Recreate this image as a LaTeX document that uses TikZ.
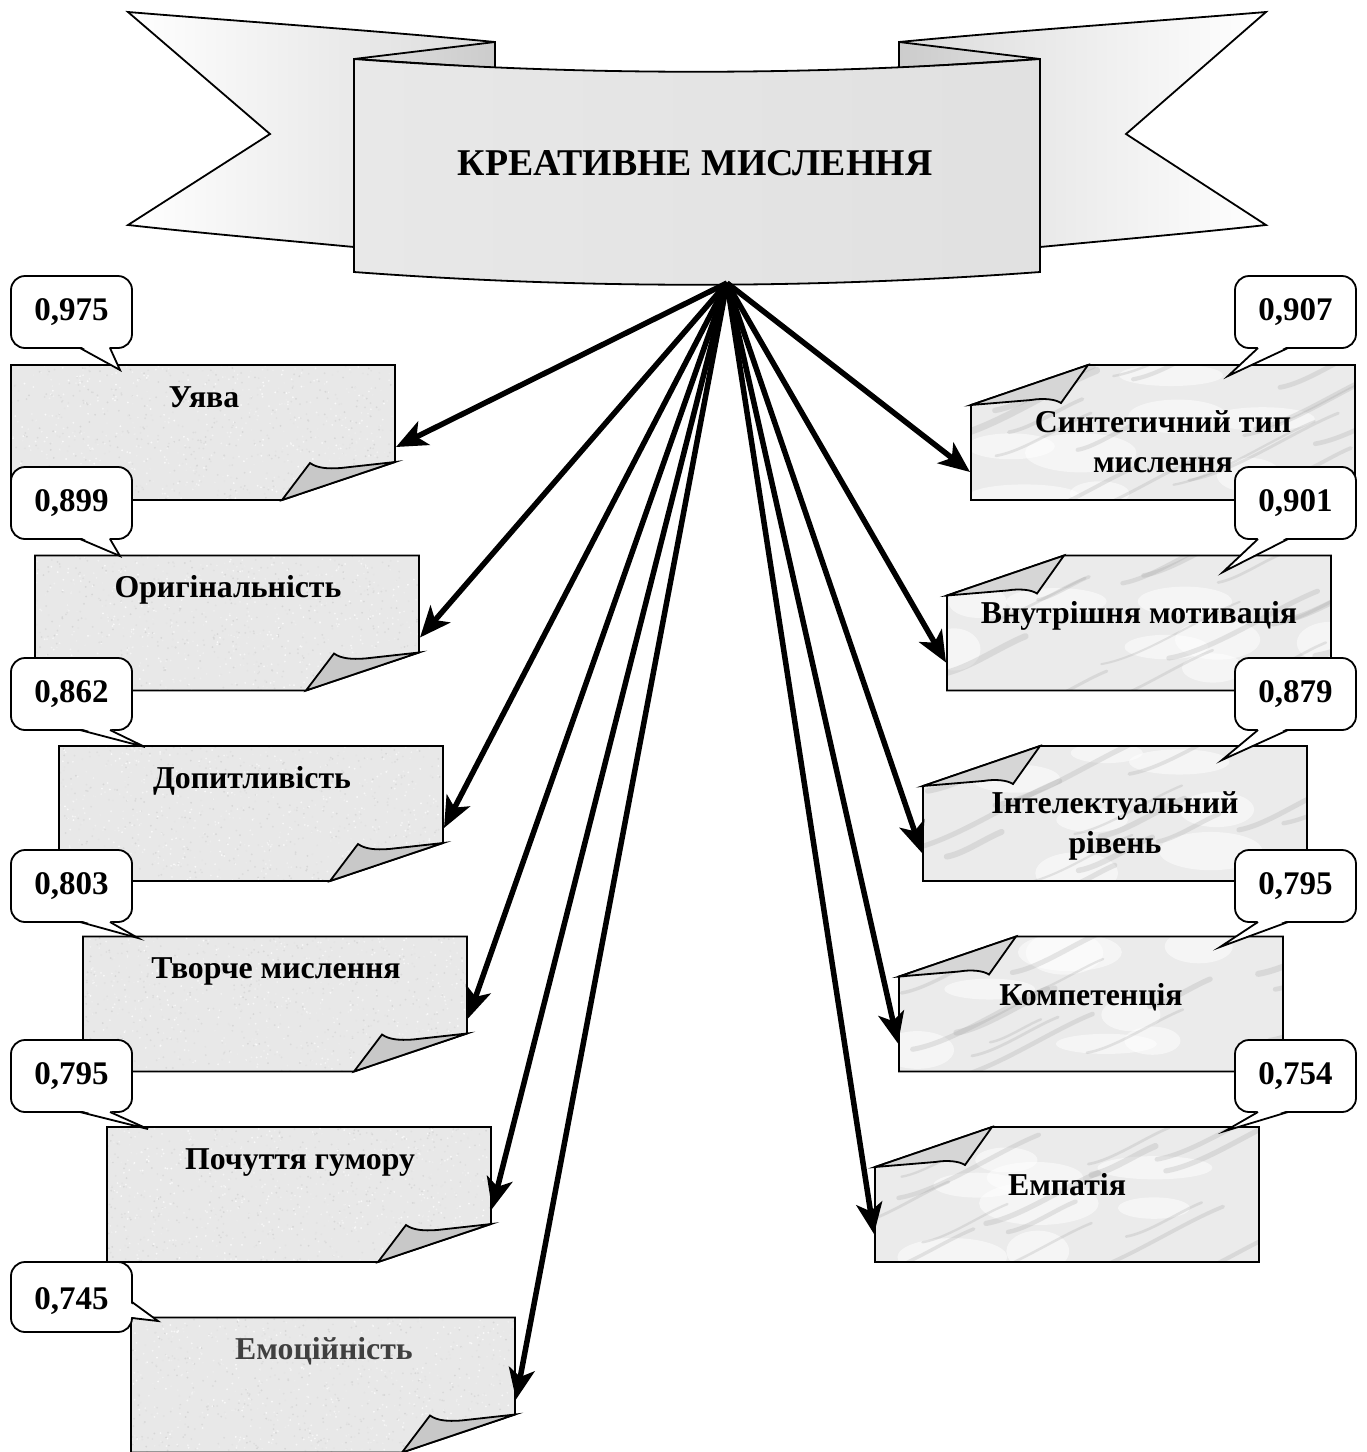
\documentclass[tikz,border=0pt]{standalone}
\usepackage{fontspec}
\setmainfont{Liberation Serif}
\usetikzlibrary{arrows.meta,calc}

\definecolor{granite}{HTML}{E8E8E8}
\definecolor{marble}{HTML}{EBEBEB}
\definecolor{flapgray}{HTML}{C8C8C8}
\definecolor{flaplight}{HTML}{D6D6D6}
\definecolor{softtext}{HTML}{404040}

\tikzset{
  outline/.style={draw=black, line width=1.8pt, line join=miter},
  link/.style={line width=5.5pt, -{Stealth[length=31pt,width=26pt,inset=8pt]}},
  cardtext/.style={font=\fontsize{31.8}{36}\selectfont\bfseries, anchor=base, inner sep=0pt},
  valuetext/.style={font=\fontsize{33}{36}\selectfont\bfseries, anchor=base, inner sep=0pt},
  titletext/.style={font=\fontsize{37.8}{42}\selectfont\bfseries, inner sep=0pt},
}

% fine grain texture for the left cards
\newcommand\GrainFill[2]{%
  \fill[granite] (#1,#2) rectangle ({#1+384},{#2+135});
  \foreach \i in {1,...,1100}{%
    \pgfmathsetmacro\px{#1+rnd*384}%
    \pgfmathsetmacro\py{#2+rnd*135}%
    \pgfmathtruncatemacro\sh{2+rnd*15}%
    \fill[black!\sh] (\px,\py) circle (1.0);
  }%
}

% veined texture for the right cards
\newcommand\VeinFill[2]{%
  \fill[marble] (#1,#2) rectangle ({#1+384},{#2+135});
  \foreach \i in {1,...,8}{%
    \pgfmathsetmacro\sx{#1+rnd*384}%
    \pgfmathsetmacro\sy{#2+rnd*135}%
    \fill[white, opacity=0.5] (\sx,\sy) ellipse ({25+rnd*35} and {10+rnd*12});
  }%
  \foreach \i in {1,...,16}{%
    \pgfmathsetmacro\sx{#1-40+rnd*420}%
    \pgfmathsetmacro\sy{#2+10+rnd*150}%
    \pgfmathsetmacro\len{50+rnd*110}%
    \pgfmathsetmacro\wd{2+rnd*5}%
    \draw[black!40, line width=\wd pt, opacity=0.22, line cap=round]
      (\sx,\sy) .. controls +({\len*0.3},{-\len*0.05}) and +({-\len*0.3},{\len*0.12}) .. +(\len,{-\len*0.45});
  }%
}

% note card with the lower right corner curled (left column)
\newcommand\GraniteCard[5]{%
  \begin{scope}
    \clip (#2,#3) -- ({#2+384},#3) -- ({#2+384},{#3+97})
      -- ({#2+271},{#3+135}) -- (#2,{#3+135}) -- cycle;
    \GrainFill{#2}{#3}
  \end{scope}
  \draw[outline] (#2,#3) -- ({#2+384},#3) -- ({#2+384},{#3+97})
    -- ({#2+271},{#3+135}) -- (#2,{#3+135}) -- cycle;
  \filldraw[outline, fill=flapgray] ({#2+271},{#3+135}) -- ({#2+299},{#3+98})
    .. controls ({#2+306},{#3+103}) and ({#2+316},{#3+104}) .. ({#2+330},{#3+103})
    -- ({#2+384},{#3+97}) -- cycle;
  \node[cardtext, text=#5] (#1) at ({#2+193},{#3+42}) {#4};
  \coordinate (#1-in) at ({#2+385},{#3+82});
}

% note card with the upper left corner curled (right column)
\newcommand\MarbleCard[3]{%
  \begin{scope}
    \clip (#2,{#3+40}) -- ({#2+117},#3) -- ({#2+384},#3)
      -- ({#2+384},{#3+135}) -- (#2,{#3+135}) -- cycle;
    \VeinFill{#2}{#3}
  \end{scope}
  \draw[outline] (#2,{#3+40}) -- ({#2+117},#3) -- ({#2+384},#3)
    -- ({#2+384},{#3+135}) -- (#2,{#3+135}) -- cycle;
  \filldraw[outline, fill=flaplight] (#2,{#3+40}) -- ({#2+117},#3) -- ({#2+90},{#3+38})
    .. controls ({#2+84},{#3+34}) and ({#2+72},{#3+33}) .. ({#2+60},{#3+35}) -- cycle;
  \coordinate (#1-in) at ({#2-1},{#3+107});
}

% rounded speech bubble holding a coefficient; tail leaves the lower edge
\newcommand\ValueTag[7]{%
  \filldraw[outline, fill=white, rounded corners=14pt] (#2,#3) rectangle ({#2+121},{#3+72});
  \fill[white] ({#4+1},{#3+70.5}) -- #6 -- ({#5-1},{#3+70.5}) -- cycle;
  \draw[outline] (#4,{#3+72}) -- #6 -- (#5,{#3+72});
  \node[valuetext] (#1) at ({#2+60.5},{#3+44}) {#7};
}

\begin{document}
\begin{tikzpicture}[x=1pt,y=-1pt]
\useasboundingbox (0,0) rectangle (1367,1452);
\pgfmathsetseed{4217}

% ---------- banner ----------
\shadedraw[outline, left color=white, right color=black!14]
  (128,12) .. controls (250,22) and (380,31) .. (495,42) -- (495,255) -- (354,247)
  .. controls (280,240) and (200,233) .. (128,225) -- (270,134) -- cycle;
\shadedraw[outline, left color=black!14, right color=white]
  (1266,12) .. controls (1144,22) and (1014,31) .. (899,42) -- (899,255) -- (1040,247)
  .. controls (1114,240) and (1194,233) .. (1266,225) -- (1126,134) -- cycle;
\shadedraw[outline, left color=black!12, right color=black!20]
  (354,59) -- (495,42) -- (495,68) -- cycle;
\shadedraw[outline, left color=black!20, right color=black!12]
  (1040,59) -- (899,42) -- (899,68) -- cycle;
\shadedraw[outline, left color=black!9, middle color=black!25, right color=black!12]
  (354,59) .. controls (582,76) and (810,76) .. (1040,59) -- (1040,272)
  .. controls (810,289) and (582,289) .. (354,272) -- cycle;
\node[titletext] (title) at (695,163) {КРЕАТИВНЕ МИСЛЕННЯ};
\coordinate (hub) at (727,283);

% ---------- left column ----------
\GraniteCard{uyava}{11}{365}{Уява}{black}
\GraniteCard{oryh}{35}{555.5}{Оригінальність}{black}
\GraniteCard{dopyt}{59}{746}{Допитливість}{black}
\GraniteCard{tvorche}{83}{936.5}{Творче мислення}{black}
\GraniteCard{humor}{107}{1127}{Почуття гумору}{black}
\GraniteCard{emoc}{131}{1317.5}{Емоційність}{softtext}

% ---------- right column ----------
\MarbleCard{syntez}{971}{365}
\node[cardtext] (syntez-a) at (1163,432) {Синтетичний тип};
\node[cardtext] (syntez-b) at (1163,472) {мислення};
\MarbleCard{motiv}{947}{555.5}
\node[cardtext] (motiv-a) at (1139,623) {Внутрішня мотивація};
\MarbleCard{intel}{923}{746}
\node[cardtext] (intel-a) at (1115,813) {Інтелектуальний};
\node[cardtext] (intel-b) at (1115,853) {рівень};
\MarbleCard{komp}{899}{936.5}
\node[cardtext] (komp-a) at (1091,1005) {Компетенція};
\MarbleCard{empat}{875}{1127}
\node[cardtext] (empat-a) at (1067,1195) {Емпатія};

% ---------- coefficients ----------
\ValueTag{v1}{11}{276}{80}{110}{(120,370)}{0,975}
\ValueTag{v2}{11}{467}{80}{110}{(120,556)}{0,899}
\ValueTag{v3}{11}{658}{80}{110}{(145,747)}{0,862}
\ValueTag{v4}{11}{850}{80}{110}{(138,938)}{0,803}
\ValueTag{v5}{11}{1040}{80}{110}{(148,1129)}{0,795}
\filldraw[outline, fill=white, rounded corners=14pt] (11,1262) rectangle (132,1332);
\fill[white] (130.5,1303) -- (158,1321) -- (130.5,1317) -- cycle;
\draw[outline] (132,1302) -- (158,1321) -- (132,1318);
\node[valuetext] (v6) at (71.5,1309) {0,745};

\ValueTag{w1}{1235}{276}{1258}{1288}{(1228,376)}{0,907}
\ValueTag{w2}{1235}{467}{1258}{1288}{(1223,572)}{0,901}
\ValueTag{w3}{1235}{658}{1258}{1288}{(1222,760)}{0,879}
\ValueTag{w4}{1235}{850}{1258}{1288}{(1220,947)}{0,795}
\ValueTag{w5}{1235}{1040}{1258}{1288}{(1225,1131)}{0,754}

% ---------- connectors ----------
\foreach \target in {uyava,oryh,dopyt,tvorche,humor,emoc,syntez,motiv,intel,komp,empat}
  \draw[link] (hub) -- (\target-in);
\end{tikzpicture}
\end{document}
